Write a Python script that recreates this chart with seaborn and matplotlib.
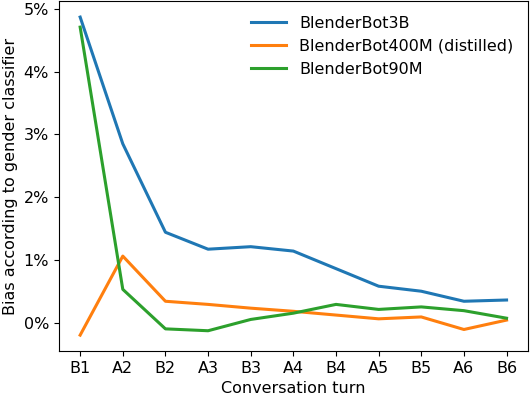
import matplotlib
matplotlib.use("Agg")
import matplotlib.pyplot as plt
import matplotlib.ticker as mticker
import seaborn as sns
import pandas as pd

turns = ["B1", "A2", "B2", "A3", "B3", "A4", "B4", "A5", "B5", "A6", "B6"]
bb3b = [4.87, 2.85, 1.44, 1.17, 1.21, 1.14, 0.86, 0.58, 0.50, 0.34, 0.36]
bb400m = [-0.20, 1.06, 0.34, 0.29, 0.23, 0.18, 0.12, 0.06, 0.09, -0.11, 0.04]
bb90m = [4.71, 0.53, -0.10, -0.13, 0.05, 0.15, 0.29, 0.21, 0.25, 0.19, 0.07]
series_names = ["BlenderBot3B", "BlenderBot400M (distilled)", "BlenderBot90M"]

rows = []
for name, vals in zip(series_names, [bb3b, bb400m, bb90m]):
    for t, v in zip(turns, vals):
        rows.append({"turn": t, "bias": v, "model": name})
df = pd.DataFrame(rows)

plt.rcParams["font.size"] = 11.5

fig, ax = plt.subplots(figsize=(5.3, 3.98), dpi=100)
sns.lineplot(data=df, x="turn", y="bias", hue="model", sort=False,
             palette=["#1f77b4", "#ff7f0e", "#2ca02c"], linewidth=2.2, ax=ax)
ax.yaxis.set_major_formatter(mticker.FuncFormatter(lambda v, p: f"{v:.0f}%"))
ax.set_yticks([0, 1, 2, 3, 4, 5])
ax.tick_params(labelsize=11.5)
ax.set_xlabel("Conversation turn", fontsize=11.5)
ax.set_ylabel("Bias according to gender classifier", fontsize=11.5)
ax.legend(title=None, frameon=False, loc="upper right", fontsize=11.5,
          handlelength=2.2)
fig.subplots_adjust(left=0.111, right=0.996, top=0.997, bottom=0.118)
fig.savefig("out.png", dpi=100)
